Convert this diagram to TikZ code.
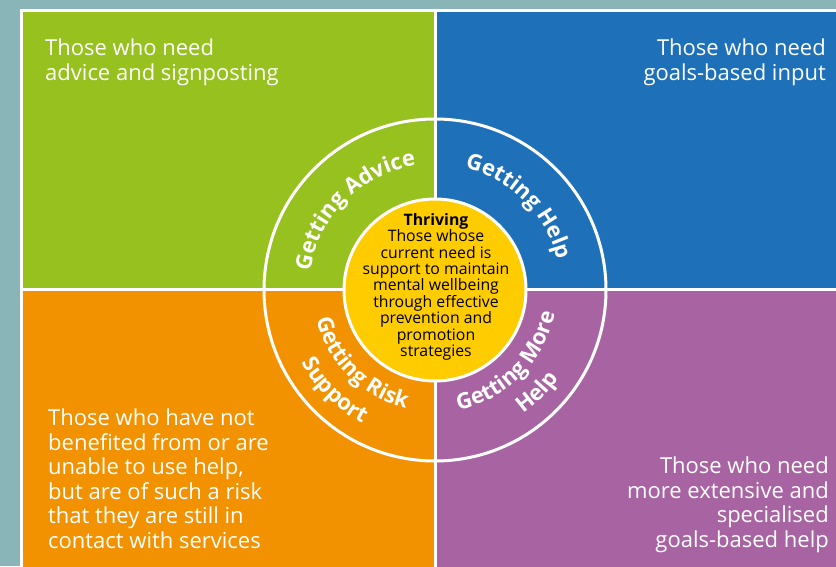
\documentclass[tikz,border=0pt]{standalone}
\usepackage{fontspec}
\setmainfont{Open Sans}
\usetikzlibrary{decorations.text}
\definecolor{frameteal}{HTML}{89B5B8}
\definecolor{advicegreen}{HTML}{96C11F}
\definecolor{helpblue}{HTML}{1E71B8}
\definecolor{riskorange}{HTML}{F39200}
\definecolor{morepurple}{HTML}{A864A2}
\definecolor{thriveyellow}{HTML}{FFCC00}
\newcommand{\quadfont}{\fontsize{22}{24.5}\selectfont}
\newcommand{\ringfont}{\fontsize{22}{22}\selectfont\bfseries}
\newcommand{\corefont}{\fontsize{15.8}{16.4}\selectfont}
\begin{document}
\begin{tikzpicture}[x=1pt,y=1pt,
    divider/.style={white,line width=3pt},
    quadtext/.style={white,inner sep=0pt,font=\quadfont},
    ringtext/.style={decorate,decoration={text along path,text align=center,
        text color=white,text={|\ringfont|#1}}}]
    \useasboundingbox (0,0) rectangle (836,566);
    \fill[frameteal] (0,0) rectangle (836,566);
    % Quadrants
    \coordinate (C) at (435,276);
    \fill[advicegreen] (21.5,276) rectangle (435,555.5);
    \fill[helpblue] (435,276) rectangle (838,555.5);
    \fill[riskorange] (21.5,-2) rectangle (435,276);
    \fill[morepurple] (435,-2) rectangle (838,276);
    \draw[divider] (21.5,-2) -- (21.5,555.5) -- (838,555.5);
    \draw[divider] (21.5,276) -- (838,276);
    \draw[divider] (435,555.5) -- (435,-2);

    % Rings
    \draw[divider] (C) circle[radius=171];
    \filldraw[fill=thriveyellow,draw=white,line width=3pt] (C) circle[radius=91];

    \path[ringtext={Getting Advice},shift={(C)}] (180:126) arc[start angle=180,end angle=90,radius=126];
    \path[ringtext={Getting Help},shift={(C)}] (90:126) arc[start angle=90,end angle=0,radius=126];
    \path[ringtext={Getting Risk},shift={(C)}] (180:122) arc[start angle=180,end angle=270,radius=122];
    \path[ringtext={Support},shift={(C)}] (180:152) arc[start angle=180,end angle=270,radius=152];
    \path[ringtext={Getting More},shift={(C)}] (270:122) arc[start angle=270,end angle=360,radius=122];
    \path[ringtext={Help},shift={(C)}] (270:152) arc[start angle=270,end angle=360,radius=152];

    % Texts
    \node[quadtext,anchor=north west,align=left] (advice) at (45,527) {Those who need\\advice and signposting};
    \node[quadtext,anchor=north east,align=right] (goals) at (826,527) {Those who need\\goals-based input};
    \node[quadtext,anchor=north west,align=left] (risk) at (48,157) {Those who have not\\benefited from or are\\unable to use help,\\but are of such a risk\\that they are still in\\contact with services};
    \node[quadtext,anchor=north east,align=right] (more) at (829,109) {Those who need\\more extensive and\\specialised\\goals-based help};
    \node[inner sep=0pt,align=center,font=\corefont,anchor=north] (thriving) at (436,353) {\textbf{Thriving}\\Those whose\\current need is\\support to maintain\\mental wellbeing\\through effective\\prevention and\\promotion\\strategies};
\end{tikzpicture}
\end{document}
